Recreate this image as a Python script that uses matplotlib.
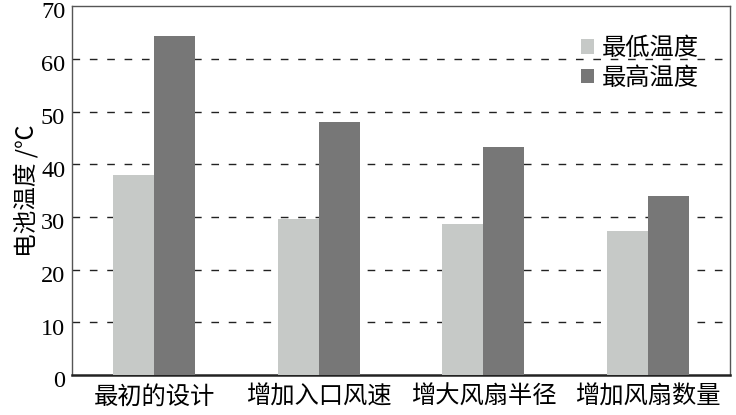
import numpy as np
import matplotlib.pyplot as plt
from matplotlib.transforms import ScaledTranslation

plt.rcParams['font.family'] = ['Noto Sans CJK SC', 'DejaVu Sans']

# data
designs = ['最初的设计', '增加入口风速', '增大风扇半径', '增加风扇数量']
t_min = [38.0, 29.7, 28.6, 27.4]
t_max = [64.3, 48.1, 43.3, 33.9]
yticks = [0, 10, 20, 30, 40, 50, 60, 70]

c_min = '#c6c9c7'
c_max = '#777777'

fig = plt.figure(figsize=(7.36, 4.15), dpi=100)
ax = fig.add_axes([0.098, 0.096, 0.894, 0.889])

x = np.arange(len(designs))
w = 0.25
ax.bar(x - w / 2, t_min, w, color=c_min, label='最低温度', zorder=3)
ax.bar(x + w / 2, t_max, w, color=c_max, label='最高温度', zorder=3)

ax.set_xlim(-0.5, len(designs) - 0.5)
ax.set_ylim(0, 70)
ax.set_yticks(yticks)
ax.set_yticklabels([str(v) for v in yticks], family='Liberation Serif', fontsize=17.5)
ax.set_xticks(x)
ax.set_xticklabels(designs, fontsize=17.5)
ax.tick_params(length=0, pad=5)
ax.tick_params(axis='x', pad=6)

# numbers sit a little below their gridlines in the original
shift = ScaledTranslation(0, -3 / 72, fig.dpi_scale_trans)
for lab in ax.get_yticklabels():
    lab.set_transform(lab.get_transform() + shift)

for v in yticks[1:-1]:
    ax.axhline(v, color='#222222', lw=1.0, ls=(0, (5.5, 7)), zorder=1)

for s in ['left', 'right', 'top']:
    ax.spines[s].set_color('#555555')
    ax.spines[s].set_linewidth(1.0)
ax.spines['bottom'].set_color('#222222')
ax.spines['bottom'].set_linewidth(1.8)

ax.set_ylabel('电池温度 /℃', fontsize=17, labelpad=2)

ax.legend(loc='upper left', bbox_to_anchor=(0.755, 0.955), frameon=False,
          fontsize=17.5, handlelength=0.55, handleheight=0.55, handletextpad=0.3,
          labelspacing=0.15, borderpad=0)

fig.savefig('out.png', dpi=100)
